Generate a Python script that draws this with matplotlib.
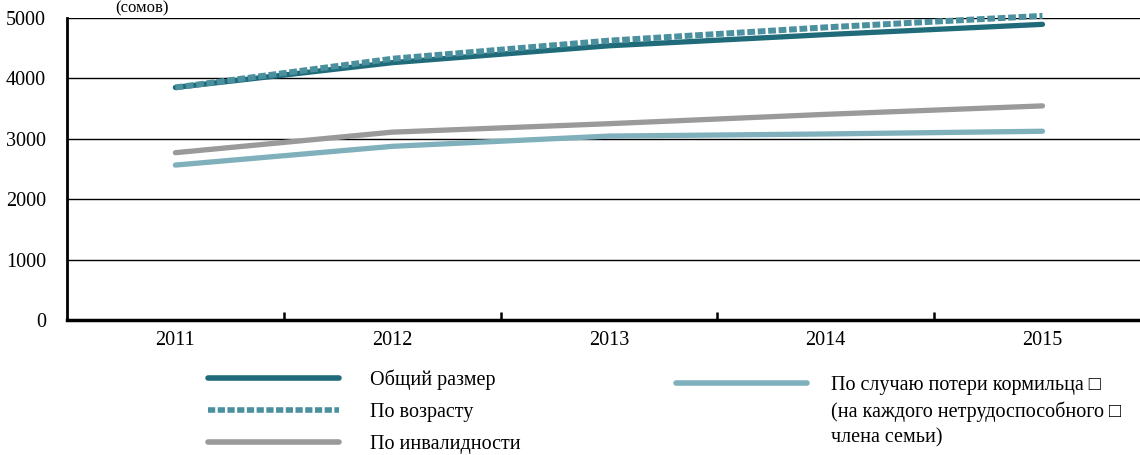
import matplotlib
matplotlib.use("Agg")
import matplotlib.pyplot as plt
import numpy as np

plt.rcParams["font.family"] = ["Liberation Serif", "DejaVu Serif"]
plt.rcParams["font.size"] = 14.5

years = ["2011", "2012", "2013", "2014", "2015"]
total = [3850, 4260, 4540, 4725, 4895]
by_age = [3850, 4325, 4625, 4845, 5035]
by_disability = [2770, 3110, 3250, 3405, 3545]
by_survivor = [2565, 2875, 3045, 3080, 3125]

series_labels = ["Общий размер", "По возрасту", "По инвалидности"]
survivor_label = ["По случаю потери кормильца \u25a1",
                  "(на каждого нетрудоспособного \u25a1",
                  "члена семьи)"]
y_ticks = [0, 1000, 2000, 3000, 4000, 5000]

c_total = "#1f6b7a"
c_age = "#4a909e"
c_dis = "#9a9a9a"
c_surv = "#7fb0bc"

W, H = 1140, 455
fig = plt.figure(figsize=(W / 100, H / 100), dpi=100)
ax = fig.add_axes([67 / W, 1 - 320 / H, 1 - 67 / W, 302 / H])

x = np.arange(len(years))
l_total, = ax.plot(x, total, color=c_total, lw=3.8, solid_capstyle="round", clip_on=False, zorder=4)
l_age, = ax.plot(x, by_age, color=c_age, lw=4.3, linestyle=(0, (1.3, 0.45)),
                 dash_capstyle="butt", clip_on=False, zorder=5)
l_dis, = ax.plot(x, by_disability, color=c_dis, lw=3.8, solid_capstyle="round", clip_on=False, zorder=3)
l_surv, = ax.plot(x, by_survivor, color=c_surv, lw=3.8, solid_capstyle="round", clip_on=False, zorder=3)

ax.set_xlim(-0.5, 4.45)
ax.set_ylim(0, 5000)
ax.set_yticks(y_ticks)
ax.set_yticklabels([str(v) for v in y_ticks])
ax.yaxis.grid(True, color="black", lw=1.0)
ax.set_axisbelow(True)
ax.tick_params(axis="y", length=0, pad=15)

ax.set_xticks(x)
ax.set_xticklabels(years)
ax.set_xticks(np.arange(0.5, 4.0, 1.0), minor=True)
ax.tick_params(axis="x", which="major", length=0, pad=8)
ax.tick_params(axis="x", which="minor", direction="in", length=6, width=1.8)

for side in ["top", "right"]:
    ax.spines[side].set_visible(False)
ax.spines["left"].set_linewidth(2.0)
ax.spines["bottom"].set_linewidth(2.5)

# unit label above the plot (mostly hidden in the source)
fig.text(115 / W, 1 - 0.5 / H, "(сомов)", ha="left", va="top", fontsize=12)

leg1 = fig.legend([l_total, l_age, l_dis], series_labels,
                  loc="upper left", bbox_to_anchor=(208 / W, 1 - 370 / H),
                  frameon=False, borderpad=0, borderaxespad=0,
                  handlelength=6.5, handletextpad=1.55, labelspacing=0.62)
for h in leg1.legend_handles:
    h.set_linewidth(4.0)

leg2 = fig.legend([l_surv], [survivor_label[0]],
                  loc="upper left", bbox_to_anchor=(676 / W, 1 - 376 / H),
                  frameon=False, borderpad=0, borderaxespad=0,
                  handlelength=6.5, handletextpad=1.2)
for h in leg2.legend_handles:
    h.set_linewidth(4.0)

fig.canvas.draw()
bb = leg2.get_texts()[0].get_window_extent()
tx = bb.x0 / fig.bbox.width
for i, line in enumerate(survivor_label[1:], start=1):
    fig.text(tx, (bb.y0 + bb.y1) / 2 / fig.bbox.height - i * 26 / H, line,
             ha="left", va="center")

fig.savefig("out.png", dpi=100)
